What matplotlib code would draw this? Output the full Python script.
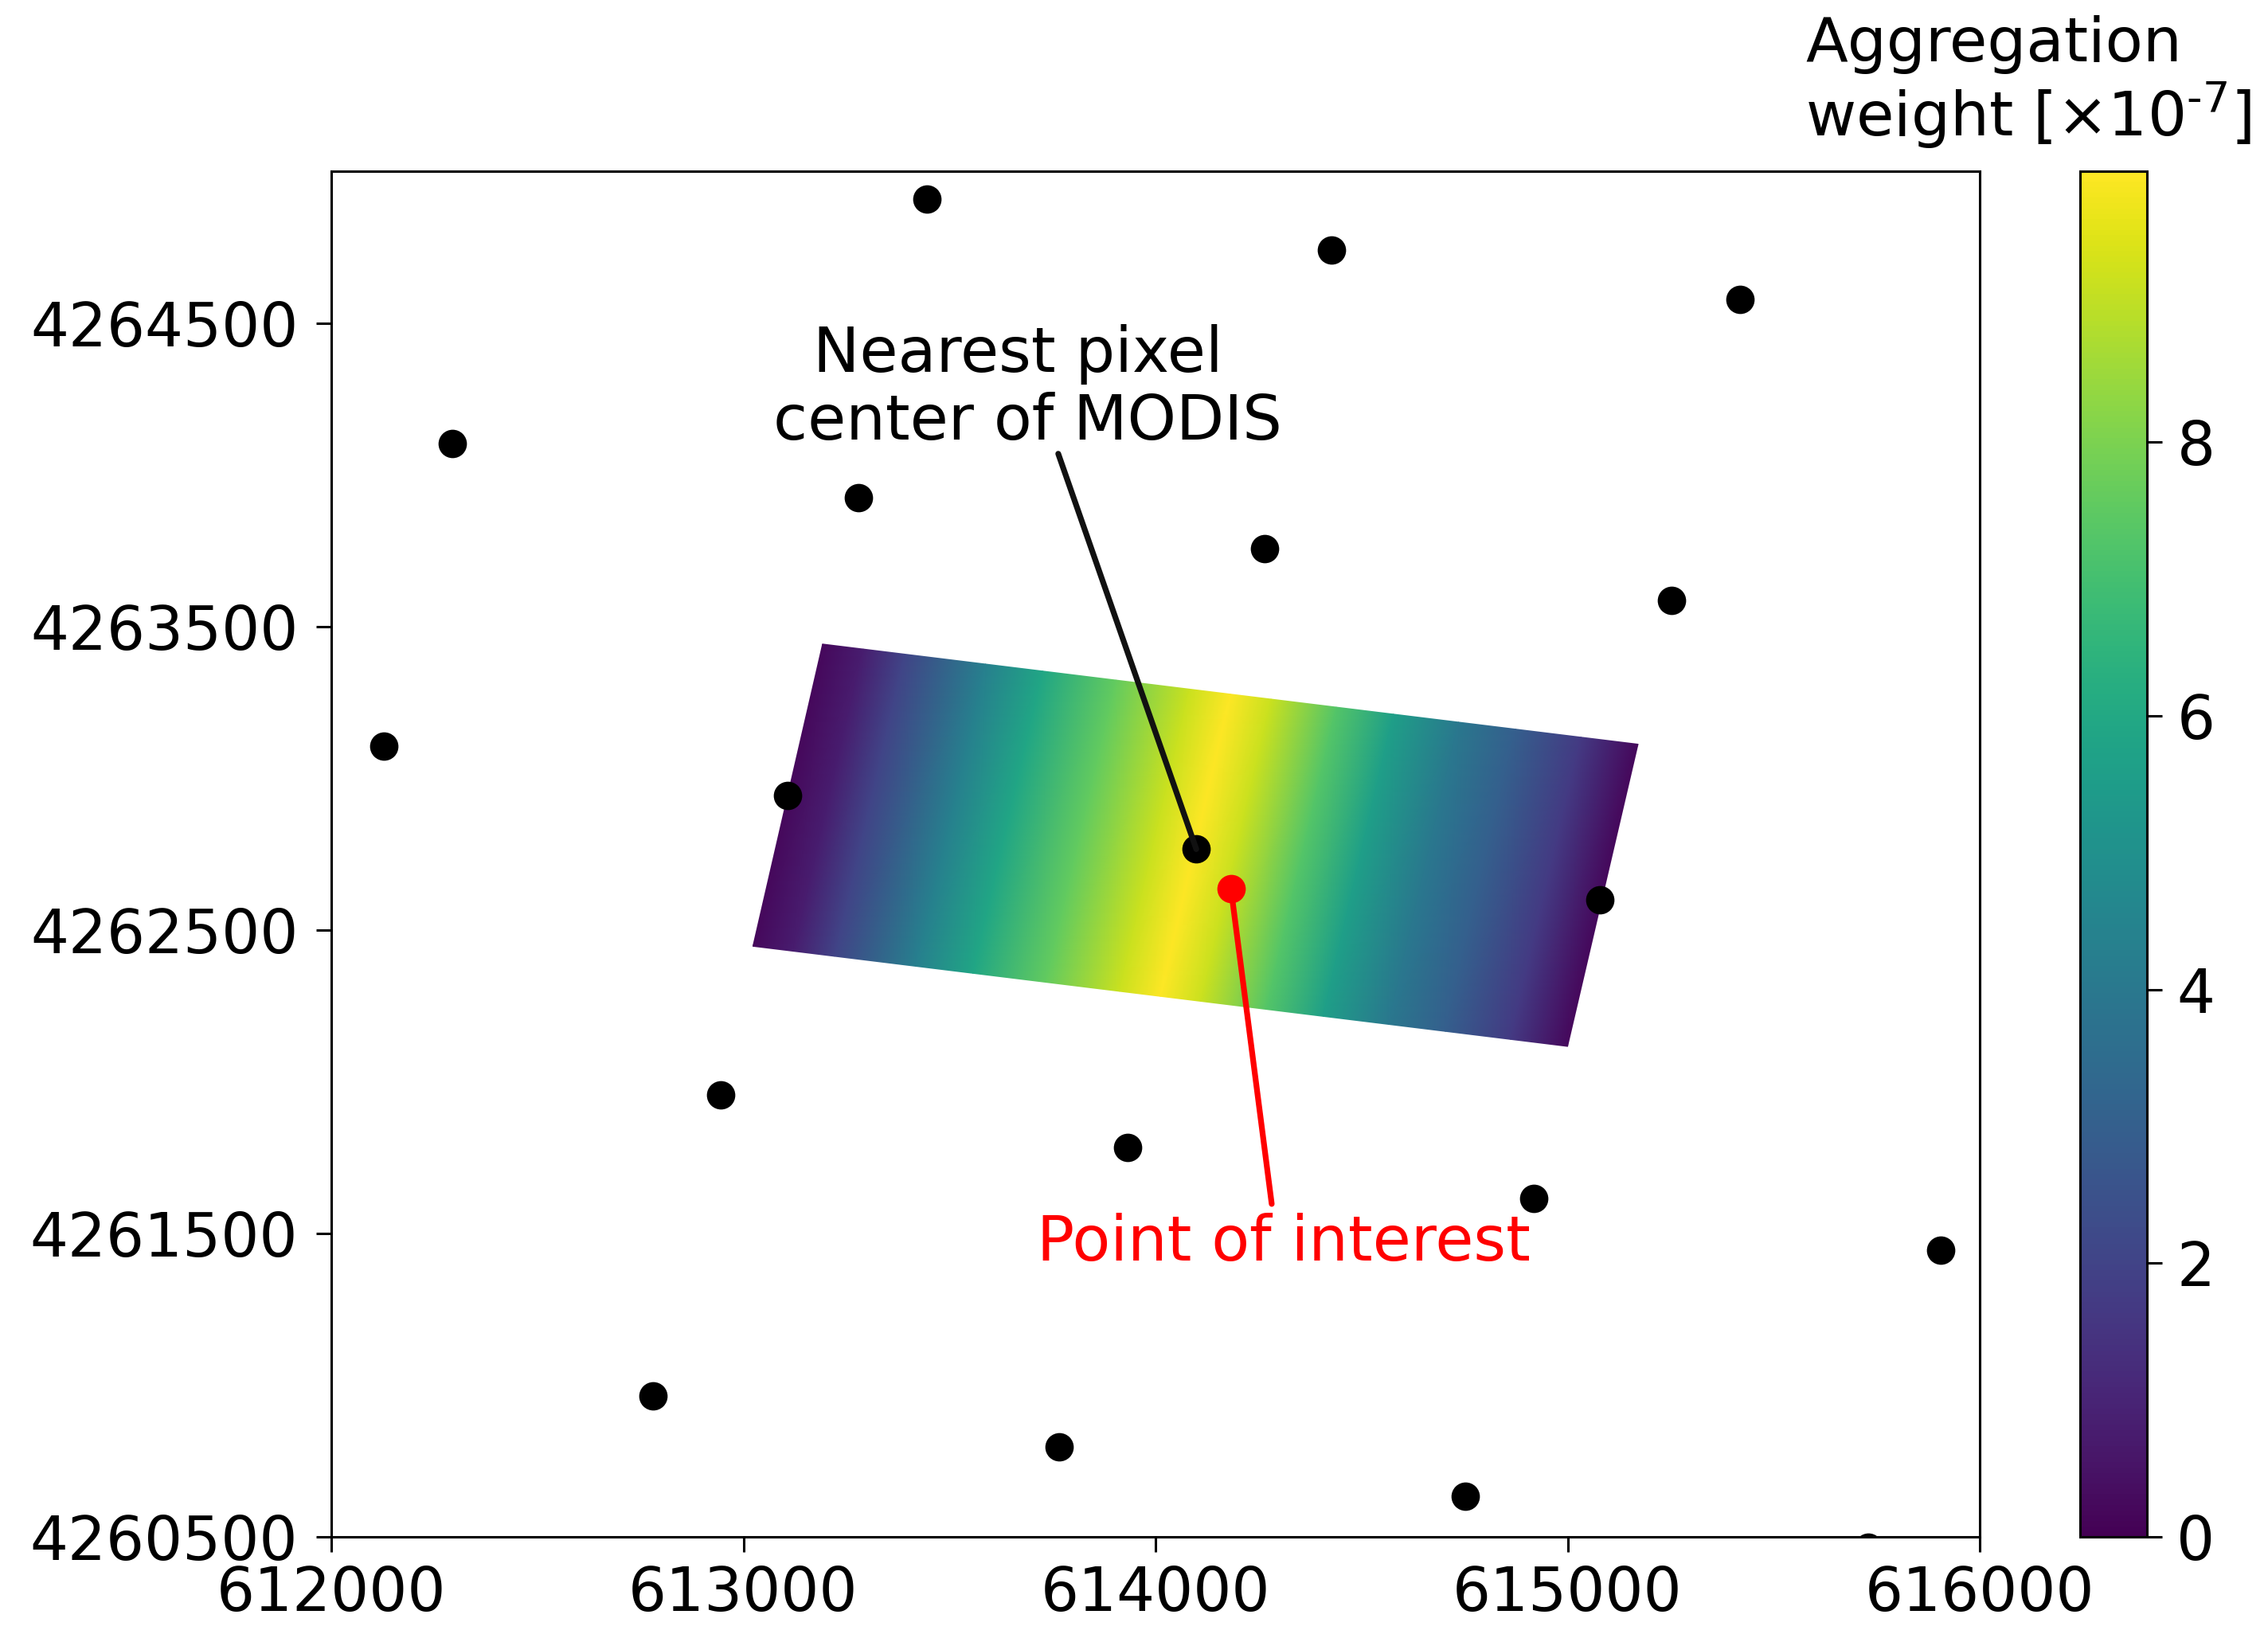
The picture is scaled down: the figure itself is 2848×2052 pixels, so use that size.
import numpy as np
import matplotlib
matplotlib.use('Agg')
import matplotlib.pyplot as plt

# MODIS pixel centers
center_x = [613446, 614427, 615418, 612293, 613280, 614265, 615252, 612127, 613108,
            614099, 615079, 612945, 613933, 614917, 615905, 612780, 613767, 614751, 615730]
center_y = [4264907, 4264740, 4264577, 4264102, 4263925, 4263757, 4263585, 4263106, 4262943,
            4262766, 4262598, 4261956, 4261784, 4261616, 4261444, 4260965, 4260797, 4260634, 4260466]
poi_x, poi_y = 614183, 4262637
nearest_x, nearest_y = 614099, 4262766

# footprint corners: top left, top right, bottom right, bottom left
foot_x = [613192, 615171, 615000, 613023]
foot_y = [4263442, 4263112, 4262116, 4262446]

# aggregation weight (x 1e-7) along the long side of the footprint
along = np.array([0.0, 0.05, 0.10, 0.20, 0.27, 0.36, 0.45, 0.50, 0.55, 0.63, 0.70, 0.78, 0.85, 0.93, 1.0])
weight = np.array([0.2, 0.8, 2.0, 4.3, 5.9, 7.6, 9.2, 9.98, 9.2, 7.3, 5.6, 4.0, 3.0, 1.7, 0.2])

xticks = [612000, 613000, 614000, 615000, 616000]
yticks = [4260500, 4261500, 4262500, 4263500, 4264500]
cbar_ticks = [0, 2, 4, 6, 8]

# footprint grid from its corners
top_x = foot_x[0] + along*(foot_x[1]-foot_x[0])
top_y = foot_y[0] + along*(foot_y[1]-foot_y[0])
bot_x = foot_x[3] + along*(foot_x[2]-foot_x[3])
bot_y = foot_y[3] + along*(foot_y[2]-foot_y[3])
grid_x = np.vstack([bot_x, top_x])
grid_y = np.vstack([bot_y, top_y])
grid_w = np.vstack([weight, weight])

fig = plt.figure(figsize=(14.24, 10.26), dpi=200)
ax = fig.add_axes([416/2848, 1-1930/2052, 2070/2848, 1715/2052])

mesh = ax.pcolormesh(grid_x, grid_y, grid_w, shading='gouraud', cmap='viridis', vmin=0, vmax=9.98)
ax.scatter(center_x, center_y, s=165, color='k', linewidths=0, zorder=3)
ax.scatter([poi_x], [poi_y], s=165, color='r', linewidths=0, zorder=4)

ax.annotate('', xy=(nearest_x, nearest_y), xytext=(613764, 4264069),
            arrowprops=dict(arrowstyle='-', color='#111111', lw=2.6, shrinkA=0, shrinkB=0), zorder=3)
ax.annotate('', xy=(poi_x, poi_y), xytext=(614282, 4261597),
            arrowprops=dict(arrowstyle='-', color='r', lw=2.6, shrinkA=0, shrinkB=0), zorder=3)
ax.text(613690, 4264075, 'Nearest pixel \ncenter of MODIS', fontsize=28.2, color='k',
        ha='center', va='bottom', linespacing=1.15)
ax.text(614311, 4261467, 'Point of interest', fontsize=28.2, color='r', ha='center', va='center')

ax.set_xlim(612000, 616000)
ax.set_ylim(4260500, 4265000)
ax.set_xticks(xticks)
ax.set_yticks(yticks)
ax.ticklabel_format(useOffset=False, style='plain')
ax.tick_params(labelsize=27.2, length=7, width=1.1)
ax.tick_params(axis='x', pad=5.5)
ax.tick_params(axis='y', pad=8)
for s in ax.spines.values():
    s.set_linewidth(1.1)

cax = fig.add_axes([2612/2848, 1-1930/2052, 84/2848, 1715/2052])
cbar = fig.colorbar(mesh, cax=cax, ticks=cbar_ticks)
cbar.ax.tick_params(labelsize=27.2, length=7, width=1.1, pad=6.5)
cbar.outline.set_linewidth(1.1)

fig.text(2267/2848, 1-104/2052, 'Aggregation\nweight [$\\times$10$^{\\text{-}7}$]', fontsize=27.8,
         ha='left', va='center', linespacing=1.1)

fig.savefig('out.png', dpi=200)
plt.close()
